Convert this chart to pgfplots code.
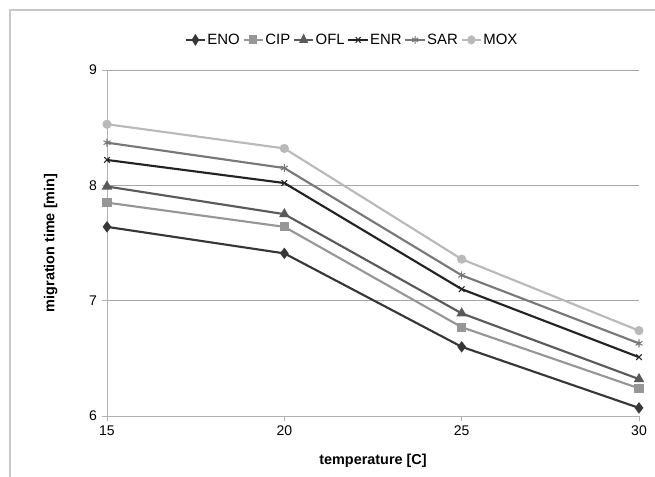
\documentclass[border=0pt]{standalone}
\usepackage{fontspec}
\setmainfont{Liberation Sans}
\usepackage{pgfplots}
\pgfplotsset{compat=1.18}
\definecolor{cENO}{RGB}{55,55,55}
\definecolor{cCIP}{RGB}{150,150,150}
\definecolor{cOFL}{RGB}{90,90,90}
\definecolor{cENR}{RGB}{35,35,35}
\definecolor{cSAR}{RGB}{120,120,120}
\definecolor{cMOX}{RGB}{185,185,185}
\definecolor{frame}{RGB}{200,200,200}
\begin{document}
\begin{tikzpicture}
\useasboundingbox (-80.25pt,-45.75pt) rectangle (411pt,312pt);
\draw[frame, line width=0.8pt] (-72.75pt,-50pt) -- (-72.75pt,304.5pt) -- (415pt,304.5pt);
\begin{axis}[
  scale only axis,
  width=399pt, height=259.5pt,
  xmin=15, xmax=30, ymin=6, ymax=9,
  xtick={15,20,25,30}, ytick={6,7,8,9},
  axis x line*=bottom, axis y line*=left,
  axis line style={draw=gray!60, line width=0.6pt, -},
  ymajorgrids, grid style={draw=gray!70, line width=0.6pt},
  tick style={draw=gray!60, line width=0.6pt},
  tick align=outside, major tick length=4pt,
  ticklabel style={font=\fontsize{10.5}{12}\selectfont},
  /pgf/number format/assume math mode=true,
  xlabel={\textbf{temperature [C]}},
  ylabel={\textbf{migration time [min]}},
  label style={font=\fontsize{10.8}{12}\selectfont},
  xlabel style={yshift=-7pt},
  ylabel style={yshift=17pt},
  clip=false,
  legend columns=6,
  legend style={draw=none, fill=none, at={(0.46,1.087)}, anchor=center,
    font=\fontsize{11.2}{13}\selectfont, column sep=0pt,
    nodes={inner xsep=1pt},
    /tikz/every even column/.append style={column sep=1pt}},
  legend image post style={xscale=0.85},
  every axis plot/.append style={line width=1.6pt},
]
\addplot[cENO, mark=diamond*, mark size=3pt] coordinates {(15,7.64)(20,7.41)(25,6.60)(30,6.07)};
\addlegendentry{ENO}
\addplot[cCIP, mark=square*, mark size=2.6pt] coordinates {(15,7.85)(20,7.64)(25,6.77)(30,6.24)};
\addlegendentry{CIP}
\addplot[cOFL, mark=triangle*, mark size=3pt] coordinates {(15,7.99)(20,7.75)(25,6.89)(30,6.32)};
\addlegendentry{OFL}
\addplot[cENR, mark=x, mark size=3pt, mark options={line width=0.8pt}] coordinates {(15,8.22)(20,8.02)(25,7.10)(30,6.51)};
\addlegendentry{ENR}
\addplot[cSAR, mark=asterisk, mark size=3pt, mark options={line width=0.8pt}] coordinates {(15,8.37)(20,8.15)(25,7.22)(30,6.63)};
\addlegendentry{SAR}
\addplot[cMOX, mark=*, mark size=2.6pt] coordinates {(15,8.53)(20,8.32)(25,7.36)(30,6.74)};
\addlegendentry{MOX}
\end{axis}
\end{tikzpicture}
\end{document}
